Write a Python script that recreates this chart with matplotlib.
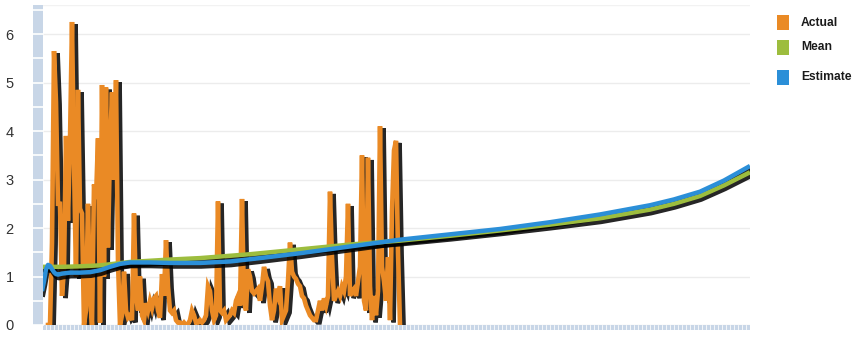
import matplotlib
matplotlib.use("Agg")
import matplotlib.pyplot as plt
import matplotlib.patheffects as pe
from matplotlib.patches import Rectangle
import numpy as np

# ---- data ----
actual_start_day = 3
actual = [
    0, 0, 1.7, 5.65, 4.6, 2.5, 2.5, 0.6, 1.15, 3.9,
    2.15, 3.8, 6.25, 3.35, 1.0, 4.85, 2.4, 2.3, 0, 0.3,
    2.5, 0.6, 0, 2.9, 2.6, 3.85, 0.05, 4.95, 1.0, 4.9,
    1.6, 3.65, 4.8, 3.0, 5.05, 1.3, 0, 0.2, 1.1, 0.3,
    0.15, 0.2, 0.1, 2.3, 0.6, 0.3, 1.0, 0.2, 0.1, 0.45,
    0.3, 0.5, 0.35, 0.55, 0.6, 0.3, 0.15, 1.05, 0.6, 1.75,
    0.8, 0.3, 0.25, 0.3, 0.1, 0.05, 0.05, 0, 0.05, 0,
    0.02, 0.1, 0.3, 0.2, 0.05, 0.05, 0.1, 0.05, 0.1, 0.2,
    0.8, 0.7, 0.3, 0.1, 0.2, 2.55, 0.3, 0.25, 0.3, 0.1,
    0.15, 0.2, 0.3, 0.25, 0.5, 0.6, 0.4, 2.6, 0.5, 0.3,
    1.15, 1.0, 0.7, 0.65, 0.7, 0.75, 0.5, 0.8, 1.2, 1.0,
    0.9, 0.4, 0.1, 0.3, 0.75, 0.6, 0.8, 0.1, 0.2, 0.3,
    0.9, 1.7, 1.1, 1.0, 0.95, 0.85, 0.8, 0.6, 0.55, 0.4,
    0.3, 0.2, 0.15, 0.1, 0.1, 0.3, 0.5, 0.3, 0.55, 0.4,
    0.6, 2.75, 1.4, 0.5, 0.6, 0.7, 0.6, 0.8, 0.7, 1.0,
    2.5, 0.6, 0.7, 0.75, 0.6, 0.9, 1.2, 3.5, 0.5, 0.3,
    3.45, 0.8, 0.1, 0.6, 0.2, 0.7, 4.1, 1.2, 0.9, 0.5,
    1.4, 0.1, 2.35, 3.6, 3.8, 1.5, 0,
]
actual_days = np.arange(actual_start_day, actual_start_day + len(actual))

estimate_days = [0, 1, 2, 3, 4, 5, 6, 7, 8, 10, 14, 19, 24, 29, 34, 39, 44,
                 54, 64, 79, 94, 109, 129, 154, 179, 204, 229, 254, 279, 304,
                 316, 329, 341, 354]
estimate = [0.7, 0.9, 1.15, 1.24, 1.22, 1.15, 1.09, 1.05, 1.04, 1.06, 1.08,
            1.08, 1.09, 1.13, 1.2, 1.26, 1.29, 1.29, 1.28, 1.28, 1.31, 1.38,
            1.48, 1.62, 1.76, 1.87, 1.98, 2.12, 2.28, 2.47, 2.59, 2.75, 2.98,
            3.28]

mean_days = [0, 10, 19, 29, 44, 64, 79, 104, 129, 154, 179, 204, 229, 254,
             279, 304, 316, 329, 341, 354]
mean = [1.2, 1.2, 1.21, 1.23, 1.3, 1.35, 1.38, 1.46, 1.56, 1.66, 1.74, 1.84,
        1.95, 2.07, 2.2, 2.38, 2.5, 2.66, 2.88, 3.15]

y_ticks = [0, 1, 2, 3, 4, 5, 6]
legend_labels = ["Actual", "Mean", "Estimate"]

# ---- style ----
C_ACTUAL = "#ea8a25"
C_MEAN = "#9dbd3e"
C_EST = "#2b8fd8"
C_BAND = "#c8d6e7"
W, H = 855, 338

fig = plt.figure(figsize=(W / 100, H / 100), dpi=100)
ax = fig.add_axes([43 / W, 13 / H, (750 - 43) / W, (325 - 5) / H])
ax.set_xlim(0.5, 354)
ax.set_ylim(0, 6.6)
for s in ax.spines.values():
    s.set_visible(False)

# horizontal grid
for y in y_ticks:
    ax.axhline(y, color="#ececec", lw=1, zorder=0)
ax.axhline(6.6, color="#f2f2f2", lw=1, zorder=0)

# actual series with dark drop shadow
ax.plot(actual_days, actual, color=C_ACTUAL, lw=3.3, zorder=3,
        solid_joinstyle="miter",
        path_effects=[pe.SimpleLineShadow(offset=(2.6, -1.6), shadow_color="black",
                                          alpha=0.85, rho=0.2),
                      pe.Normal()])

# smooth curves: shadows first, then the coloured lines
for xs, ys in ((mean_days, mean), (estimate_days, estimate)):
    ax.plot(xs, ys, color="black", lw=3.2, zorder=4, solid_joinstyle="round",
            path_effects=[pe.SimpleLineShadow(offset=(0.8, -2.6), shadow_color="black",
                                              alpha=0.85, rho=0.2)])
ax.plot(mean_days, mean, color=C_MEAN, lw=3.2, zorder=5, solid_capstyle="butt",
        solid_joinstyle="round")
ax.plot(estimate_days, estimate, color=C_EST, lw=3.2, zorder=6, solid_capstyle="butt",
        solid_joinstyle="round")

# y axis: blue band with half-unit divisions
ytr = ax.get_yaxis_transform()
band_w = 10 / (750 - 43)
ax.add_patch(Rectangle((-band_w, 0), band_w, 6.6, transform=ytr,
                       facecolor=C_BAND, edgecolor="none", clip_on=False, zorder=1))
for y in np.arange(0, 6.6, 0.5):
    ax.plot([-band_w, 0], [y, y], transform=ytr, color="white", lw=1.2,
            clip_on=False, zorder=2)
ax.set_yticks(y_ticks)
ax.set_yticklabels([str(v) for v in y_ticks], fontsize=10.5, color="#333333",
                   family="Liberation Sans")
ax.tick_params(axis="y", length=0, pad=21)

# x axis: blue strip with fine divisions
xtr = ax.get_xaxis_transform()
strip_h = 5 / (325 - 5)
ax.add_patch(Rectangle((0.5, -strip_h), 353.5, strip_h, transform=xtr,
                       facecolor=C_BAND, edgecolor="none", clip_on=False, zorder=1))
ax.set_xticks(np.arange(2, 354, 2))
ax.set_xticklabels([])
ax.tick_params(axis="x", length=3, width=0.6, color="#dde3ea", pad=0, direction="out")
for x in np.arange(2, 354, 2):
    ax.plot([x, x], [-strip_h, 0], transform=xtr, color="white", lw=0.5,
            clip_on=False, zorder=2)

# legend
colors = [C_ACTUAL, C_MEAN, C_EST]
tops = [15, 40, 70]
for lab, c, t in zip(legend_labels, colors, tops):
    fig.patches.append(Rectangle((777 / W, 1 - (t + 15) / H), 12 / W, 15 / H,
                                 transform=fig.transFigure, facecolor=c,
                                 edgecolor="none"))
    fig.text(801 / W, 1 - (t + 7.5) / H, lab, fontsize=8.7, fontweight="bold",
             color="#1a1a1a", va="center", ha="left", family="Liberation Sans")

fig.savefig("out.png", dpi=100)
